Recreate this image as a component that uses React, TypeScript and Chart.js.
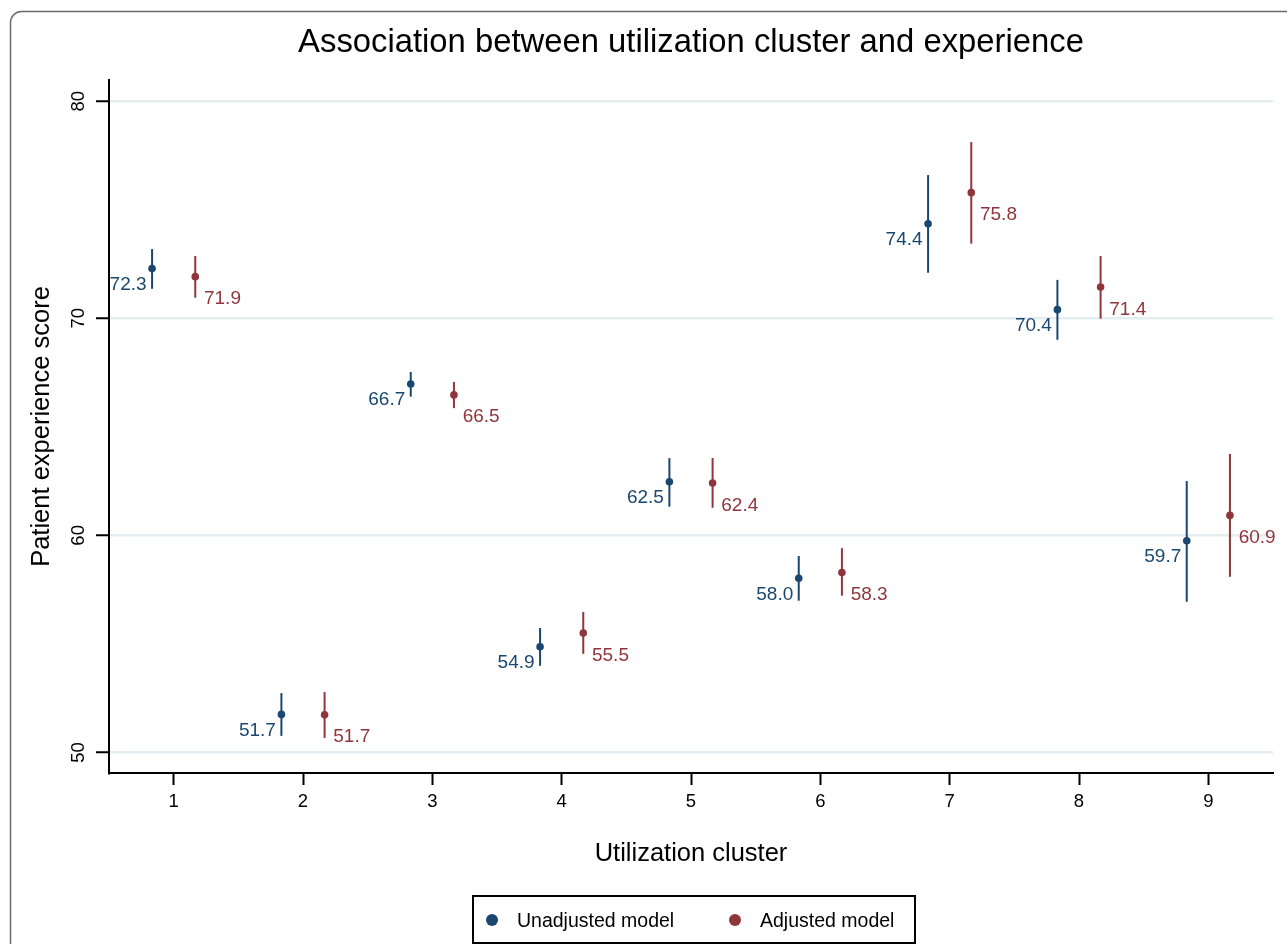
import React, { useEffect, useRef } from "react";
import { Chart, registerables } from "chart.js";

Chart.register(...registerables);

// ---- data ----
const clusters = [1, 2, 3, 4, 5, 6, 7, 8, 9];
const unadjEst = [72.29, 51.75, 66.97, 54.87, 62.47, 58.02, 74.36, 70.4, 59.75];
const unadjLow = [71.36, 50.76, 66.39, 53.99, 61.32, 56.99, 72.1, 69.01, 56.94];
const unadjHigh = [73.19, 52.73, 67.53, 55.73, 63.56, 59.05, 76.6, 71.77, 62.5];
const unadjLabels = ["72.3", "51.7", "66.7", "54.9", "62.5", "58.0", "74.4", "70.4", "59.7"];
const adjEst = [71.92, 51.73, 66.47, 55.5, 62.41, 58.29, 75.79, 71.44, 60.92];
const adjLow = [70.95, 50.67, 65.86, 54.54, 61.27, 57.22, 73.44, 69.98, 58.09];
const adjHigh = [72.87, 52.78, 67.07, 56.47, 63.56, 59.41, 78.12, 72.87, 63.75];
const adjLabels = ["71.9", "51.7", "66.5", "55.5", "62.4", "58.3", "75.8", "71.4", "60.9"];
const xTicks = [1, 2, 3, 4, 5, 6, 7, 8, 9];
const yTicks = [50, 60, 70, 80];
const seriesNames = ["Unadjusted model", "Adjusted model"];
const titleText = "Association between utilization cluster and experience";
const xTitle = "Utilization cluster";
const yTitle = "Patient experience score";

const BLUE = "#1a476f";
const RED = "#90353b";
const FONT = "'Liberation Sans', Arial, Helvetica, sans-serif";
const OFFSET = 0.167;

const extrasPlugin = {
  id: "extras",
  beforeDraw(chart: any) {
    const ctx = chart.ctx;
    ctx.save();
    ctx.fillStyle = "#ffffff";
    ctx.fillRect(0, 0, chart.width, chart.height);
    // outer graph region border
    ctx.strokeStyle = "#6a6a6a";
    ctx.lineWidth = 1.5;
    ctx.beginPath();
    (ctx as any).roundRect(10.5, 11.5, 1500, 1200, 11);
    ctx.stroke();
    ctx.restore();
  },
  beforeDatasetsDraw(chart: any) {
    const ctx = chart.ctx;
    const ys = chart.scales.y;
    ctx.save();
    chart.data.datasets.forEach((ds: any, i: number) => {
      const meta = chart.getDatasetMeta(i);
      ctx.strokeStyle = ds.backgroundColor;
      ctx.lineWidth = 2;
      meta.data.forEach((pt: any, j: number) => {
        const x = pt.x;
        ctx.beginPath();
        ctx.moveTo(x, ys.getPixelForValue(ds.low[j]));
        ctx.lineTo(x, ys.getPixelForValue(ds.high[j]));
        ctx.stroke();
      });
    });
    ctx.restore();
  },
  afterDatasetsDraw(chart: any) {
    const ctx = chart.ctx;
    ctx.save();
    ctx.font = `19px ${FONT}`;
    ctx.textBaseline = "alphabetic";
    chart.data.datasets.forEach((ds: any, i: number) => {
      const meta = chart.getDatasetMeta(i);
      ctx.fillStyle = ds.backgroundColor;
      meta.data.forEach((pt: any, j: number) => {
        if (ds.side === "left") {
          ctx.textAlign = "right";
          ctx.fillText(ds.labels[j], pt.x - 5.5, pt.y + 21.3);
        } else {
          ctx.textAlign = "left";
          ctx.fillText(ds.labels[j], pt.x + 8.7, pt.y + 27.5);
        }
      });
    });
    ctx.restore();
  },
  afterDraw(chart: any) {
    const ctx = chart.ctx;
    const xs = chart.scales.x;
    const ys = chart.scales.y;
    const ca = chart.chartArea;
    ctx.save();
    ctx.fillStyle = "#000";
    // title
    ctx.font = `32.8px ${FONT}`;
    ctx.textAlign = "center";
    ctx.textBaseline = "alphabetic";
    ctx.fillText(titleText, (ca.left + ca.right) / 2, 51.5);
    // x tick labels
    ctx.font = `18.5px ${FONT}`;
    xTicks.forEach((v) => {
      ctx.fillText(String(v), xs.getPixelForValue(v), 806.5);
    });
    // y tick labels (rotated)
    yTicks.forEach((v) => {
      ctx.save();
      ctx.translate(83.5, ys.getPixelForValue(v));
      ctx.rotate(-Math.PI / 2);
      ctx.textAlign = "center";
      ctx.fillText(String(v), 0, 0);
      ctx.restore();
    });
    // axis titles
    ctx.font = `25.5px ${FONT}`;
    ctx.fillText(xTitle, (ca.left + ca.right) / 2, 861);
    ctx.save();
    ctx.translate(49, (ca.top + ca.bottom) / 2);
    ctx.rotate(-Math.PI / 2);
    ctx.fillText(yTitle, 0, 0);
    ctx.restore();
    // legend
    ctx.strokeStyle = "#000";
    ctx.lineWidth = 2;
    ctx.strokeRect(473, 896, 442, 47);
    const items = [
      { name: seriesNames[0], color: BLUE, dx: 492, tx: 517 },
      { name: seriesNames[1], color: RED, dx: 735, tx: 760 },
    ];
    ctx.font = `19.5px ${FONT}`;
    ctx.textAlign = "left";
    items.forEach((it) => {
      ctx.fillStyle = it.color;
      ctx.beginPath();
      ctx.arc(it.dx, 920, 6, 0, Math.PI * 2);
      ctx.fill();
      ctx.fillStyle = "#000";
      ctx.fillText(it.name, it.tx, 927);
    });
    ctx.restore();
  },
};

export default function App() {
  const ref = useRef<HTMLCanvasElement | null>(null);
  useEffect(() => {
    if (!ref.current) return;
    const chart = new Chart(ref.current, {
      type: "scatter",
      data: {
        datasets: [
          {
            label: seriesNames[0],
            data: clusters.map((c, i) => ({ x: c - OFFSET, y: unadjEst[i] })),
            backgroundColor: BLUE,
            borderColor: BLUE,
            pointRadius: 3.8,
            pointBorderWidth: 0,
            low: unadjLow,
            high: unadjHigh,
            labels: unadjLabels,
            side: "left",
          } as any,
          {
            label: seriesNames[1],
            data: clusters.map((c, i) => ({ x: c + OFFSET, y: adjEst[i] })),
            backgroundColor: RED,
            borderColor: RED,
            pointRadius: 3.8,
            pointBorderWidth: 0,
            low: adjLow,
            high: adjHigh,
            labels: adjLabels,
            side: "right",
          } as any,
        ],
      },
      options: {
        animation: false,
        responsive: false,
        maintainAspectRatio: false,
        events: [],
        layout: { padding: { top: 80, right: 14, bottom: 0, left: 0 } },
        plugins: {
          legend: { display: false },
          title: { display: false },
          tooltip: { enabled: false },
        },
        scales: {
          x: {
            type: "linear",
            min: 0.5,
            max: 9.5,
            afterBuildTicks: (s: any) => {
              s.ticks = xTicks.map((v) => ({ value: v }));
            },
            afterFit: (s: any) => {
              s.height = 171;
            },
            grid: {
              drawOnChartArea: false,
              drawTicks: true,
              tickLength: 12,
              tickWidth: 2,
              tickColor: "#000",
            },
            border: { display: true, color: "#000", width: 2 },
            ticks: { display: false },
          },
          y: {
            type: "linear",
            min: 49.05,
            max: 80.98,
            afterBuildTicks: (s: any) => {
              s.ticks = yTicks.map((v) => ({ value: v }));
            },
            afterFit: (s: any) => {
              s.width = 109;
            },
            grid: {
              color: "#e4eef0",
              lineWidth: 2.5,
              drawTicks: true,
              tickLength: 13,
              tickWidth: 2,
              tickColor: "#000",
            },
            border: { display: true, color: "#000", width: 2 },
            ticks: { display: false },
          },
        },
      } as any,
      plugins: [extrasPlugin],
    });
    return () => chart.destroy();
  }, []);
  return (
    <div style={{ position: "fixed", left: 0, top: 0, width: 1287, height: 944, background: "#fff" }}>
      <canvas ref={ref} width={1287} height={944} style={{ width: 1287, height: 944, display: "block" }} />
    </div>
  );
}
